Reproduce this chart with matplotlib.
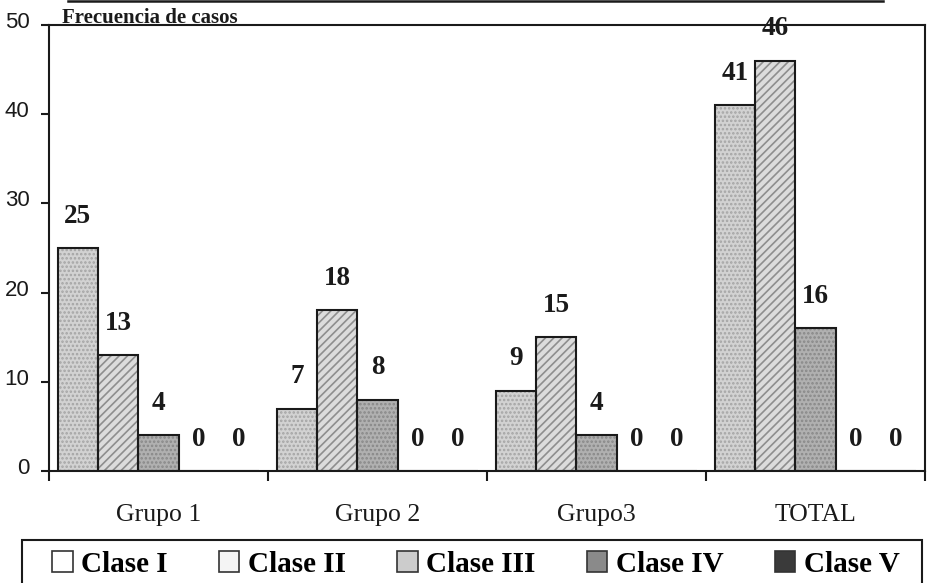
import matplotlib
matplotlib.use("Agg")
import matplotlib.pyplot as plt
import matplotlib.transforms as mtransforms
from matplotlib.patches import Patch, Rectangle
from matplotlib.lines import Line2D
import numpy as np

groups = ["Grupo 1", "Grupo 2", "Grupo3", "TOTAL"]
classes = ["Clase I", "Clase II", "Clase III", "Clase IV", "Clase V"]
clase_I = [25, 7, 9, 41]
clase_II = [13, 18, 15, 46]
clase_III = [4, 8, 4, 16]
clase_IV = [0, 0, 0, 0]
clase_V = [0, 0, 0, 0]
series = [clase_I, clase_II, clase_III, clase_IV, clase_V]
yticks = [0, 10, 20, 30, 40, 50]

bar_faces = ["#d2d2d2", "#dcdcdc", "#b0b0b0", "#7a7a7a", "#3c3c3c"]
bar_hatch = ["....", "////", "....", "", ""]
bar_hcol = ["#a4a4a4", "#8e8e8e", "#888888", "#7a7a7a", "#3c3c3c"]
leg_faces = ["#ffffff", "#f4f4f4", "#cccccc", "#8a8a8a", "#3a3a3a"]

W, H = 927, 583
fig = plt.figure(figsize=(W / 100, H / 100), dpi=100)
L, R, T, B = 49, 925, 25, 471
ax = fig.add_axes([L / W, 1 - B / H, (R - L) / W, (B - T) / H])

x = np.arange(len(groups))
bw = 0.184
serif = "Liberation Serif"
plt.rcParams["hatch.linewidth"] = 1.2
for i, vals in enumerate(series):
    pos = x + (i - 2) * bw
    ax.bar(pos, vals, bw, color=bar_faces[i], edgecolor=bar_hcol[i],
           hatch=bar_hatch[i], linewidth=0, zorder=2)
    ax.bar(pos, vals, bw, facecolor="none", edgecolor="#1a1a1a",
           linewidth=1.5, zorder=3)
    for px, v in zip(pos, vals):
        ax.annotate(str(v), (px, v), xytext=(0, 23), textcoords="offset points",
                    ha="center", va="center", fontsize=19.5, fontweight="bold",
                    family=serif, color="#1a1a1a")

ax.set_xlim(-0.5, 3.5)
ax.set_ylim(0, 50)
ax.set_yticks(yticks)
ax.set_yticklabels([str(t) for t in yticks], family="Liberation Sans",
                   fontsize=16, color="#1a1a1a")
ax.set_xticks(x)
ax.set_xticklabels(groups, family=serif, fontsize=18.5, color="#1a1a1a")
ax.set_xticks(np.arange(-0.5, 4.0, 1.0), minor=True)
ax.tick_params(axis="x", which="major", length=0, pad=24)
ax.tick_params(axis="x", which="minor", length=7, width=1.5, direction="out",
               color="#1a1a1a")
ax.tick_params(axis="y", length=6, width=1.5, direction="out", pad=8,
               color="#1a1a1a")
off = mtransforms.ScaledTranslation(0, 5 / 100, fig.dpi_scale_trans)
for lab in ax.get_yticklabels():
    lab.set_transform(lab.get_transform() + off)
for s in ax.spines.values():
    s.set_linewidth(1.5)
    s.set_color("#1a1a1a")

fig.text(62 / W, 1 - 23 / H, "Frecuencia de casos", family=serif,
         fontweight="bold", fontsize=15, va="baseline", ha="left",
         color="#1a1a1a")

# outer frame line at top
fig.add_artist(Line2D([68 / W, 883 / W], [1 - 1 / H, 1 - 1 / H],
                      transform=fig.transFigure, color="#1a1a1a", lw=1.8))
# legend frame (cut at bottom)
fig.add_artist(Rectangle((22 / W, -0.02), (922 - 22) / W, 0.02 + (H - 540) / H,
                         transform=fig.transFigure, facecolor="none",
                         edgecolor="#1a1a1a", lw=1.5))
handles = [Patch(facecolor=leg_faces[i], edgecolor="#333333", linewidth=1.2)
           for i in range(5)]
fig.legend(handles, classes, loc="center", bbox_to_anchor=(476 / W, 1 - 564 / H),
           ncol=5, frameon=False, prop={"family": serif, "weight": "bold", "size": 21},
           handlelength=0.7, handleheight=0.7, handletextpad=0.3,
           columnspacing=1.75, borderpad=0, borderaxespad=0)

fig.savefig("out.png", dpi=100)
